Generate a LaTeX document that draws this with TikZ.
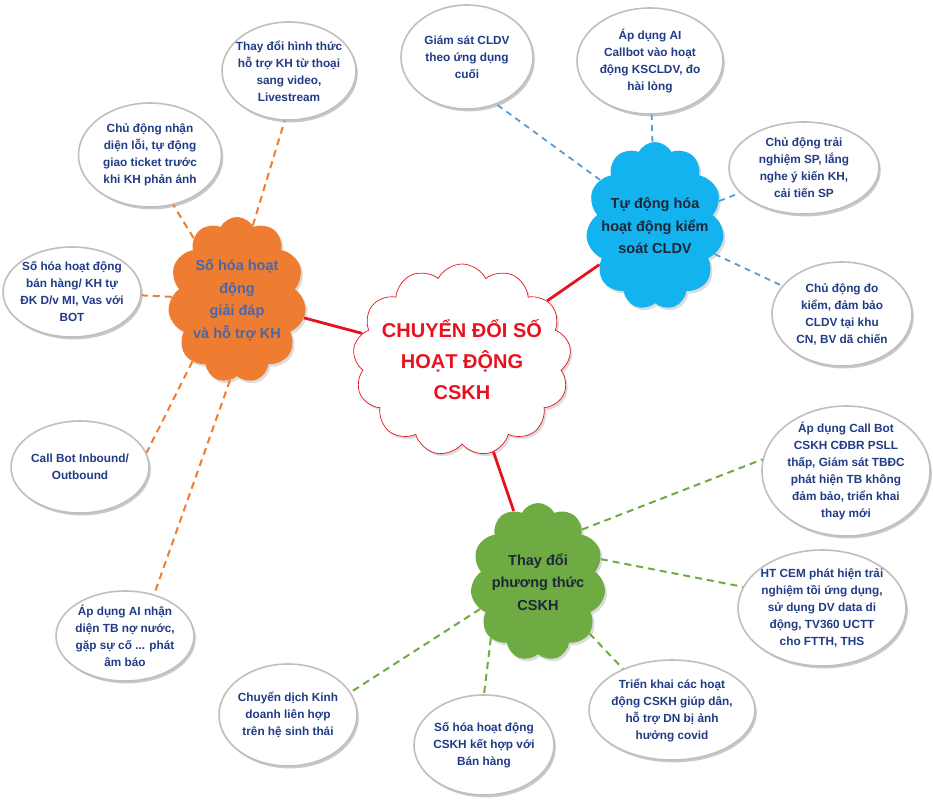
\documentclass[tikz,border=0pt]{standalone}
\usepackage{fontspec}
\setmainfont{Liberation Sans}
\usetikzlibrary{shapes.symbols,shapes.geometric,shadows}

\definecolor{hubred}{HTML}{E8121F}
\definecolor{orangefill}{HTML}{EE7D31}
\definecolor{bluefill}{HTML}{12B3EE}
\definecolor{greenfill}{HTML}{6EAB43}
\definecolor{bluedash}{HTML}{5B9BD5}
\definecolor{bubbletext}{HTML}{213C86}
\definecolor{slatetext}{HTML}{4A66A6}
\definecolor{darktext}{HTML}{1E2638}

\begin{document}
\begin{tikzpicture}
[
	x=1pt,
	y=-1pt,
	bubble/.style={ellipse,draw=gray!50,line width=1.6pt,fill=white,inner xsep=-22pt,inner ysep=-12pt,align=center,text=bubbletext,font=\bfseries\fontsize{11.8}{17}\selectfont,drop shadow={shadow xshift=1.8pt,shadow yshift=-2.4pt,fill=gray!85}},
	puff/.style={cloud,cloud puffs=11,cloud puff arc=125,cloud ignores aspect,inner xsep=-18pt,inner ysep=-14pt,align=center,font=\bfseries\fontsize{14.5}{22.5}\selectfont,drop shadow={shadow xshift=2pt,shadow yshift=-2.5pt,fill=gray!55}},
	hub/.style={puff,cloud puffs=13,draw=hubred,line width=0.7pt,fill=white,text=hubred,inner xsep=-30pt,inner ysep=-20pt,font=\bfseries\fontsize{20}{31}\selectfont},
	redlink/.style={draw=hubred,line width=2.8pt},
	orangelink/.style={draw=orangefill,line width=2pt,dash pattern=on 7pt off 5pt},
	bluelink/.style={draw=bluedash,line width=1.8pt,dash pattern=on 6pt off 5pt},
	greenlink/.style={draw=greenfill,line width=2pt,dash pattern=on 7pt off 5pt}
]

	\useasboundingbox (0,0) rectangle (933,800);

	% main topics
	\node[hub,minimum width=218,minimum height=192] (hub) at (462,360) {CHUYỂN ĐỔI SỐ\\HOẠT ĐỘNG\\CSKH};
	\node[puff,fill=orangefill,text=slatetext,minimum width=138,minimum height=166] (orange) at (237,300) {Số hóa hoạt\\động\\giải đáp\\và hỗ trợ KH};
	\node[puff,fill=bluefill,text=darktext,minimum width=138,minimum height=168] (blue) at (655,226) {Tự động hóa\\hoạt động kiểm\\soát CLDV};
	\node[puff,fill=greenfill,text=darktext,minimum width=135,minimum height=158] (green) at (538,582) {Thay đổi\\phương thức\\CSKH};

	\draw[redlink] (hub) -- (orange);
	\draw[redlink] (hub) -- (blue);
	\draw[redlink] (hub) -- (green);

	% orange branch
	\node[bubble,minimum width=134,minimum height=98] (hinhthuc) at (289,71) {Thay đổi hình thức\\hỗ trợ KH từ thoại\\sang video,\\Livestream};
	\node[bubble,minimum width=143,minimum height=104] (nhandien) at (150,155) {Chủ động nhận\\diện lỗi, tự động\\giao ticket trước\\khi KH phản ánh};
	\node[bubble,minimum width=138,minimum height=90] (banhang) at (72,292) {Số hóa hoạt động\\bán hàng/ KH tự\\ĐK D/v MI, Vas với\\BOT};
	\node[bubble,minimum width=138,minimum height=92] (callbot) at (80,467) {Call Bot Inbound/\\Outbound};
	\node[bubble,minimum width=138,minimum height=90] (nonuoc) at (125,636) {Áp dụng AI nhận\\diện TB nợ nước,\\gặp sự cố ... phát\\âm báo};

	\draw[orangelink] (orange.78) -- (hinhthuc.-95);
	\draw[orangelink] (orange.125) -- (nhandien.-65);
	\draw[orangelink] (orange) -- (banhang);
	\draw[orangelink] (orange.-126) -- (callbot.12);
	\draw[orangelink] (orange.-95) -- (nonuoc.55);

	% blue branch
	\node[bubble,minimum width=132,minimum height=104] (giamsat) at (467,57) {Giám sát CLDV\\theo ứng dụng\\cuối};
	\node[bubble,minimum width=146,minimum height=106] (aicallbot) at (650,61) {Áp dụng AI\\Callbot vào hoạt\\động KSCLDV, đo\\hài lòng};
	\node[bubble,minimum width=150,minimum height=92] (trainghiem) at (804,168) {Chủ động trải\\nghiệm SP, lắng\\nghe ý kiến KH,\\cải tiến SP};
	\node[bubble,minimum width=140,minimum height=104] (dokiem) at (842,314) {Chủ động đo\\kiểm, đảm bảo\\CLDV tại khu\\CN, BV dã chiến};

	\draw[bluelink] (blue.140) -- (giamsat.-58);
	\draw[bluelink] (blue) -- (aicallbot);
	\draw[bluelink] (blue) -- (trainghiem);
	\draw[bluelink] (blue) -- (dokiem);

	% green branch
	\node[bubble,minimum width=168,minimum height=130] (cdbr) at (846,471) {Áp dụng Call Bot\\CSKH CĐBR PSLL\\thấp, Giám sát TBĐC\\phát hiện TB không\\đảm bảo, triển khai\\thay mới};
	\node[bubble,minimum width=168,minimum height=116] (cem) at (822,608) {HT CEM phát hiện trải\\nghiệm tồi ứng dụng,\\sử dụng DV data di\\động, TV360 UCTT\\cho FTTH, THS};
	\node[bubble,minimum width=166,minimum height=100] (covid) at (672,710) {Triển khai các hoạt\\động CSKH giúp dân,\\hỗ trợ DN bị ảnh\\hưởng covid};
	\node[bubble,minimum width=140,minimum height=100] (sohoa) at (484,745) {Số hóa hoạt động\\CSKH kết hợp với\\Bán hàng};
	\node[bubble,minimum width=138,minimum height=102] (kinhdoanh) at (288,715) {Chuyển dịch Kinh\\doanh liên hợp\\trên hệ sinh thái};

	\draw[greenlink] (green.50) -- (cdbr.172);
	\draw[greenlink] (green.20) -- (cem.165);
	\draw[greenlink] (green.-45) -- (covid.140);
	\draw[greenlink] (green.-130) -- (sohoa.north);
	\draw[greenlink] (green.-155) -- (kinhdoanh.20);

\end{tikzpicture}
\end{document}
